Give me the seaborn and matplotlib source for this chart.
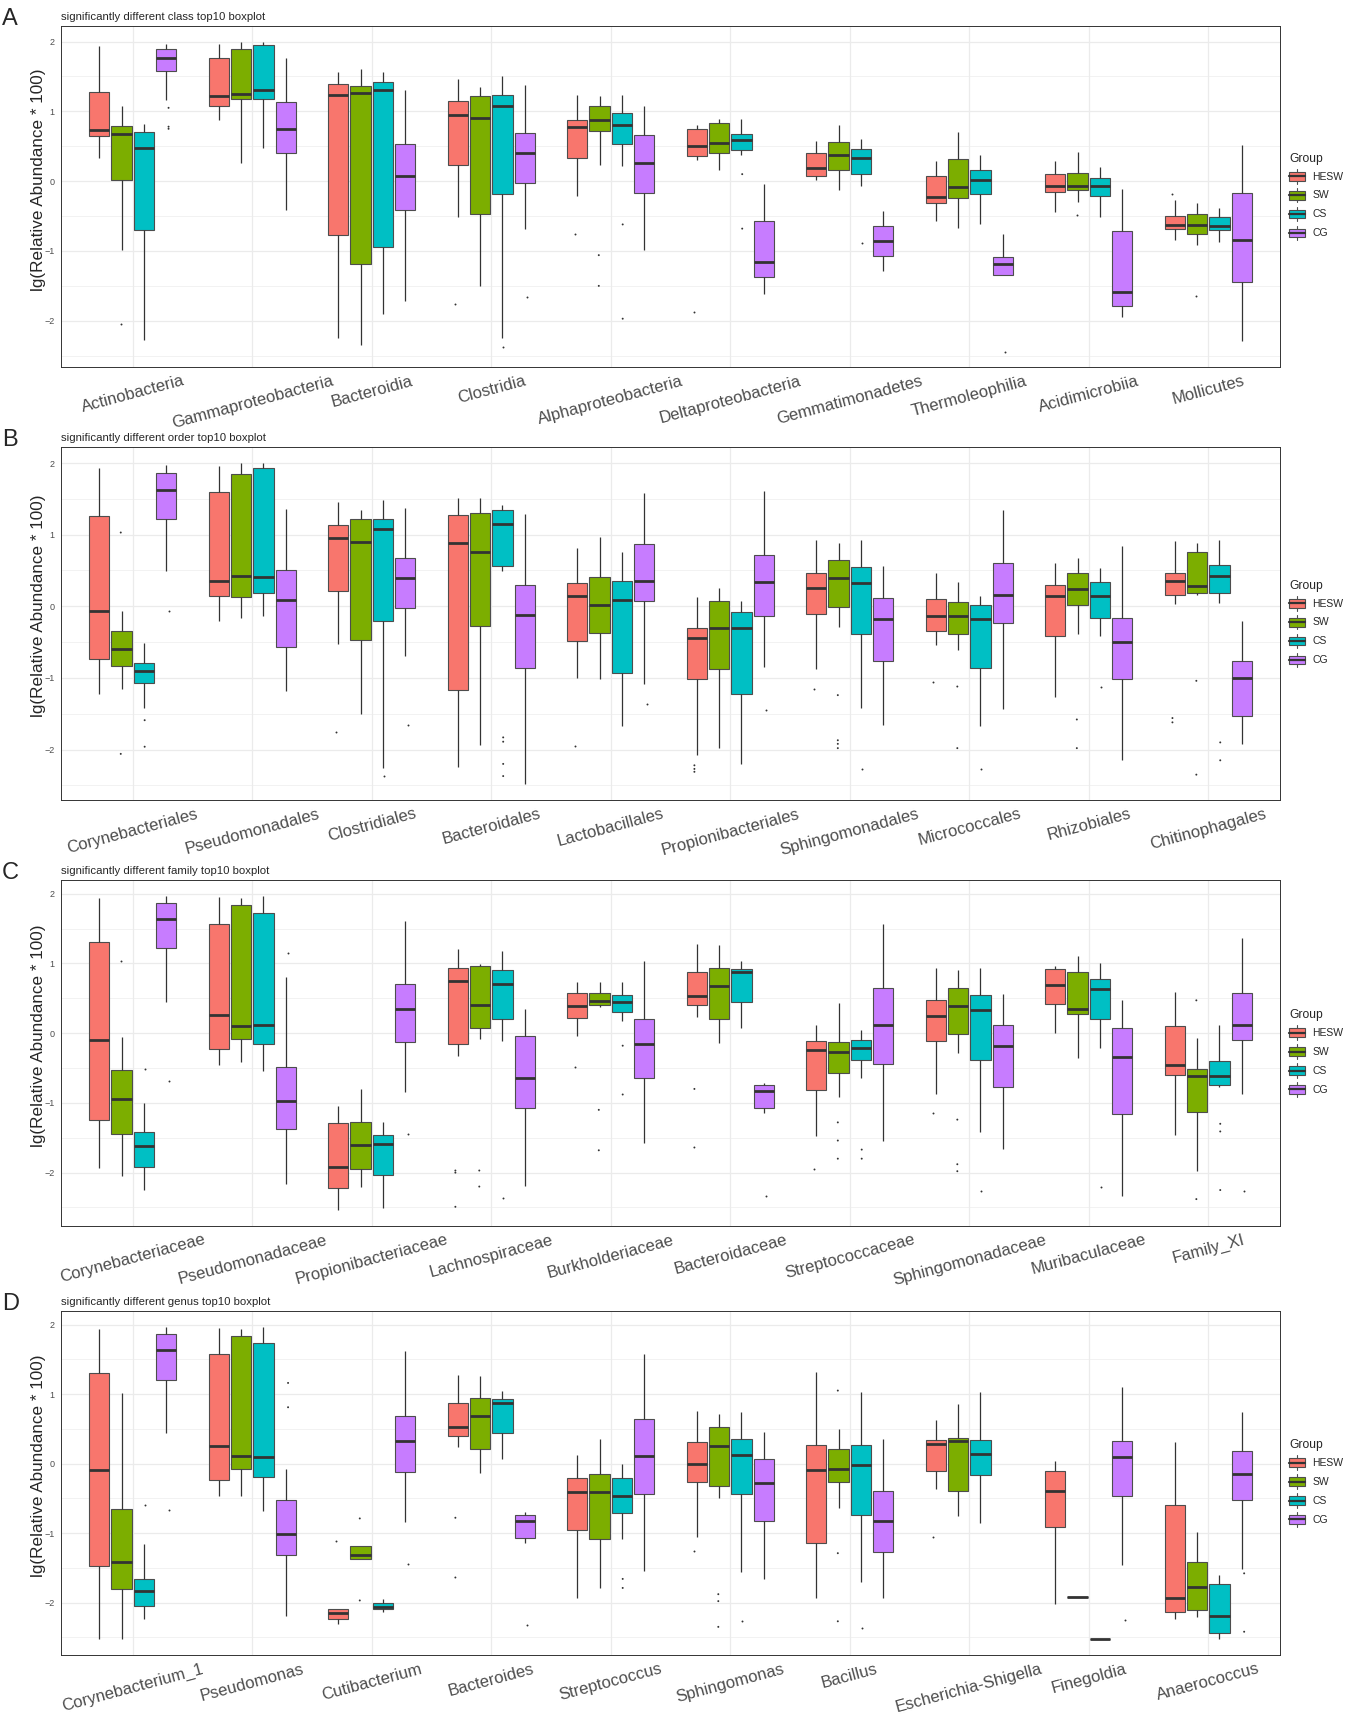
import numpy as np
import pandas as pd
import seaborn as sns
import matplotlib
matplotlib.use('Agg')
import matplotlib.pyplot as plt
from matplotlib.patches import Patch, Rectangle
from matplotlib.lines import Line2D
from matplotlib.legend_handler import HandlerBase
from matplotlib.ticker import FixedLocator

# ------------------------------- data start ------------------------------- #
groups = ['HESW', 'SW', 'CS', 'CG']
group_colors = ['#F8766D', '#7CAE00', '#00BFC4', '#C77CFF']

# every box: [lower whisker, q1, median, q3, upper whisker]
# outliers: (category index, group, value)

# --- A: class ---
class_cats = ['Actinobacteria', 'Gammaproteobacteria', 'Bacteroidia', 'Clostridia', 'Alphaproteobacteria',
              'Deltaproteobacteria', 'Gemmatimonadetes', 'Thermoleophilia', 'Acidimicrobiia', 'Mollicutes']
class_hesw = [[0.33, 0.65, 0.73, 1.28, 1.94], [0.88, 1.08, 1.22, 1.77, 1.96], [-2.24, -0.77, 1.24, 1.39, 1.57],
              [-0.52, 0.23, 0.95, 1.15, 1.46], [-0.21, 0.33, 0.78, 0.88, 1.23], [0.30, 0.36, 0.50, 0.74, 0.81],
              [0.02, 0.07, 0.19, 0.40, 0.57], [-0.57, -0.32, -0.22, 0.08, 0.29], [-0.44, -0.15, -0.07, 0.10, 0.29],
              [-0.85, -0.68, -0.63, -0.50, -0.27]]
class_sw = [[-0.98, 0.02, 0.67, 0.79, 1.07], [0.26, 1.18, 1.25, 1.89, 2.00], [-2.35, -1.18, 1.26, 1.36, 1.60],
            [-1.50, -0.47, 0.91, 1.22, 1.35], [0.23, 0.72, 0.87, 1.07, 1.22], [0.16, 0.41, 0.55, 0.83, 0.89],
            [-0.12, 0.16, 0.37, 0.56, 0.80], [-0.67, -0.24, -0.09, 0.32, 0.71], [-0.30, -0.12, -0.07, 0.11, 0.42],
            [-0.92, -0.75, -0.63, -0.47, -0.32]]
class_cs = [[-2.27, -0.70, 0.47, 0.71, 0.82], [0.47, 1.18, 1.31, 1.95, 1.99], [-1.90, -0.94, 1.30, 1.42, 1.56],
            [-2.25, -0.19, 1.08, 1.23, 1.50], [0.22, 0.53, 0.81, 0.98, 1.23], [0.37, 0.44, 0.59, 0.67, 0.89],
            [-0.07, 0.10, 0.33, 0.46, 0.60], [-0.61, -0.19, 0.02, 0.16, 0.37], [-0.51, -0.21, -0.07, 0.05, 0.20],
            [-0.87, -0.70, -0.64, -0.51, -0.38]]
class_cg = [[1.16, 1.58, 1.76, 1.89, 1.97], [-0.41, 0.41, 0.75, 1.14, 1.77], [-1.71, -0.42, 0.07, 0.53, 1.30],
            [-0.69, -0.03, 0.40, 0.69, 1.38], [-0.98, -0.17, 0.26, 0.66, 1.08], [-1.61, -1.38, -1.16, -0.57, -0.04],
            [-1.28, -1.07, -0.86, -0.64, -0.43], [-1.35, -1.35, -1.18, -1.09, -0.76], [-1.95, -1.79, -1.59, -0.71, -0.11],
            [-2.29, -1.45, -0.84, -0.17, 0.52]]
class_out = [(0, 'SW', -2.05), (0, 'CG', 1.05), (0, 'CG', 0.78), (0, 'CG', 0.75),
             (3, 'HESW', -1.76), (3, 'CS', -2.37), (3, 'CG', -1.66),
             (4, 'HESW', -0.75), (4, 'SW', -1.06), (4, 'SW', -1.50), (4, 'CS', -0.62), (4, 'CS', -1.97),
             (5, 'HESW', -1.88), (5, 'CS', 0.10), (5, 'CS', -0.68),
             (6, 'CS', -0.89), (7, 'CG', -2.44), (8, 'SW', -0.48),
             (9, 'HESW', -0.19), (9, 'SW', -1.65)]

# --- B: order ---
order_cats = ['Corynebacteriales', 'Pseudomonadales', 'Clostridiales', 'Bacteroidales', 'Lactobacillales',
              'Propionibacteriales', 'Sphingomonadales', 'Micrococcales', 'Rhizobiales', 'Chitinophagales']
order_hesw = [[-1.22, -0.74, -0.07, 1.26, 1.93], [-0.20, 0.14, 0.36, 1.59, 1.96], [-0.52, 0.22, 0.95, 1.14, 1.45],
              [-2.24, -1.17, 0.89, 1.27, 1.51], [-1.00, -0.49, 0.14, 0.32, 0.82], [-2.07, -1.01, -0.44, -0.30, 0.13],
              [-0.88, -0.11, 0.25, 0.47, 0.93], [-0.54, -0.35, -0.13, 0.10, 0.47], [-1.26, -0.41, 0.15, 0.30, 0.60],
              [0.03, 0.16, 0.35, 0.47, 0.91]]
order_sw = [[-1.15, -0.83, -0.59, -0.34, -0.06], [-0.16, 0.13, 0.42, 1.85, 2.00], [-1.50, -0.47, 0.90, 1.22, 1.35],
            [-1.93, -0.28, 0.76, 1.30, 1.51], [-1.02, -0.37, 0.02, 0.41, 0.97], [-1.98, -0.88, -0.30, 0.08, 0.26],
            [-0.29, -0.01, 0.39, 0.64, 0.89], [-0.61, -0.38, -0.14, 0.06, 0.34], [-0.39, 0.02, 0.24, 0.46, 0.68],
            [0.16, 0.19, 0.28, 0.76, 0.89]]
order_cs = [[-1.42, -1.07, -0.91, -0.79, -0.51], [-0.13, 0.19, 0.41, 1.93, 2.00], [-2.26, -0.20, 1.08, 1.22, 1.49],
            [0.49, 0.56, 1.15, 1.34, 1.41], [-1.67, -0.93, 0.09, 0.35, 0.76], [-2.20, -1.22, -0.30, -0.08, 0.08],
            [-1.42, -0.39, 0.33, 0.55, 0.93], [-1.67, -0.86, -0.18, 0.02, 0.14], [-0.42, -0.17, 0.14, 0.34, 0.54],
            [0.04, 0.18, 0.42, 0.58, 0.92]]
order_cg = [[0.49, 1.22, 1.63, 1.86, 1.97], [-1.18, -0.57, 0.09, 0.51, 1.36], [-0.69, -0.03, 0.40, 0.68, 1.37],
            [-2.48, -0.86, -0.12, 0.30, 1.29], [-1.09, 0.07, 0.35, 0.87, 1.58], [-0.85, -0.13, 0.34, 0.71, 1.61],
            [-1.66, -0.77, -0.18, 0.12, 0.56], [-1.43, -0.23, 0.16, 0.60, 1.35], [-2.14, -1.02, -0.50, -0.17, 0.84],
            [-1.92, -1.53, -1.00, -0.77, -0.20]]
order_out = [(0, 'SW', 1.03), (0, 'SW', -2.06), (0, 'CS', -1.59), (0, 'CS', -1.96), (0, 'CG', -0.06),
             (2, 'HESW', -1.76), (2, 'CS', -2.37), (2, 'CG', -1.66),
             (3, 'CS', -1.83), (3, 'CS', -1.89), (3, 'CS', -2.20), (3, 'CS', -2.37),
             (4, 'HESW', -1.95), (4, 'CG', -1.37),
             (5, 'HESW', -2.22), (5, 'HESW', -2.27), (5, 'HESW', -2.31), (5, 'CG', -1.45),
             (6, 'HESW', -1.15), (6, 'SW', -1.24), (6, 'SW', -1.87), (6, 'SW', -1.92), (6, 'SW', -1.98), (6, 'CS', -2.27),
             (7, 'HESW', -1.05), (7, 'SW', -1.12), (7, 'SW', -1.98), (7, 'CS', -2.27),
             (8, 'SW', -1.58), (8, 'SW', -1.98), (8, 'CS', -1.12),
             (9, 'HESW', -1.56), (9, 'HESW', -1.62), (9, 'SW', -1.04), (9, 'SW', -2.35), (9, 'CS', -1.90), (9, 'CS', -2.15)]

# --- C: family ---
family_cats = ['Corynebacteriaceae', 'Pseudomonadaceae', 'Propionibacteriaceae', 'Lachnospiraceae', 'Burkholderiaceae',
               'Bacteroidaceae', 'Streptococcaceae', 'Sphingomonadaceae', 'Muribaculaceae', 'Family_XI']
family_hesw = [[-1.93, -1.24, -0.10, 1.31, 1.94], [-0.46, -0.23, 0.26, 1.57, 1.95], [-2.54, -2.22, -1.92, -1.29, -1.05],
               [-0.33, -0.16, 0.75, 0.93, 1.21], [-0.04, 0.22, 0.39, 0.57, 0.74], [0.23, 0.40, 0.53, 0.88, 1.28],
               [-1.48, -0.82, -0.24, -0.12, 0.11], [-0.88, -0.11, 0.25, 0.48, 0.93], [0.00, 0.42, 0.69, 0.92, 0.96],
               [-1.46, -0.60, -0.45, 0.10, 0.59]]
family_sw = [[-2.05, -1.45, -0.95, -0.53, -0.05], [-0.42, -0.08, 0.10, 1.83, 1.94], [-2.21, -1.95, -1.60, -1.27, -0.80],
             [-0.08, 0.08, 0.41, 0.96, 0.99], [0.38, 0.40, 0.46, 0.57, 0.74], [-0.14, 0.20, 0.67, 0.94, 1.26],
             [-0.92, -0.57, -0.27, -0.13, 0.43], [-0.29, -0.01, 0.39, 0.64, 0.90], [-0.35, 0.28, 0.34, 0.87, 1.10],
             [-1.98, -1.13, -0.62, -0.51, -0.07]]
family_cs = [[-2.25, -1.92, -1.62, -1.42, -1.00], [-0.55, -0.16, 0.12, 1.72, 1.97], [-2.51, -2.04, -1.59, -1.46, -1.28],
             [-0.11, 0.20, 0.71, 0.90, 1.18], [0.18, 0.30, 0.44, 0.54, 0.73], [0.07, 0.45, 0.88, 0.92, 1.04],
             [-0.64, -0.38, -0.22, -0.10, 0.04], [-1.42, -0.39, 0.33, 0.55, 0.93], [-0.21, 0.20, 0.63, 0.78, 1.01],
             [-0.77, -0.75, -0.61, -0.40, 0.11]]
family_cg = [[0.44, 1.22, 1.63, 1.87, 1.96], [-2.17, -1.38, -0.98, -0.48, 0.80], [-0.84, -0.13, 0.34, 0.70, 1.61],
             [-2.19, -1.07, -0.64, -0.04, 0.34], [-1.57, -0.65, -0.16, 0.20, 1.03], [-1.14, -1.07, -0.83, -0.74, -0.71],
             [-1.54, -0.44, 0.11, 0.64, 1.56], [-1.66, -0.77, -0.18, 0.11, 0.56], [-2.34, -1.16, -0.34, 0.08, 0.47],
             [-0.87, -0.10, 0.11, 0.57, 1.36]]
family_out = [(0, 'SW', 1.03), (0, 'CS', -0.52), (0, 'CG', -0.68), (1, 'CG', 1.15), (2, 'CG', -1.45),
              (3, 'HESW', -1.97), (3, 'HESW', -2.00), (3, 'HESW', -2.49), (3, 'SW', -1.97), (3, 'SW', -2.20), (3, 'CS', -2.36),
              (4, 'HESW', -0.48), (4, 'SW', -1.10), (4, 'SW', -1.68), (4, 'CS', -0.18), (4, 'CS', -0.88),
              (5, 'HESW', -0.80), (5, 'HESW', -1.64), (5, 'CG', -2.34),
              (6, 'HESW', -1.95), (6, 'SW', -1.28), (6, 'SW', -1.54), (6, 'SW', -1.80), (6, 'CS', -1.67), (6, 'CS', -1.80),
              (7, 'HESW', -1.15), (7, 'SW', -1.24), (7, 'SW', -1.88), (7, 'SW', -1.98), (7, 'CS', -2.27),
              (8, 'CS', -2.20),
              (9, 'SW', 0.47), (9, 'SW', -2.38), (9, 'CS', -1.30), (9, 'CS', -1.41), (9, 'CS', -2.25), (9, 'CG', -2.26)]

# --- D: genus ---
genus_cats = ['Corynebacterium_1', 'Pseudomonas', 'Cutibacterium', 'Bacteroides', 'Streptococcus',
              'Sphingomonas', 'Bacillus', 'Escherichia-Shigella', 'Finegoldia', 'Anaerococcus']
genus_hesw = [[-2.53, -1.48, -0.10, 1.31, 1.94], [-0.47, -0.24, 0.25, 1.58, 1.95], [-2.31, -2.23, -2.15, -2.09, -2.09],
              [0.24, 0.40, 0.53, 0.87, 1.28], [-1.94, -0.95, -0.41, -0.21, 0.12], [-1.05, -0.26, -0.01, 0.31, 0.75],
              [-1.93, -1.15, -0.10, 0.27, 1.32], [-0.36, -0.11, 0.28, 0.34, 0.63], [-2.02, -0.91, -0.40, -0.11, 0.04],
              [-2.24, -2.13, -1.93, -0.59, 0.31]]
genus_sw = [[-2.52, -1.81, -1.41, -0.66, 1.02], [-0.46, -0.08, 0.11, 1.83, 1.94], [-1.38, -1.38, -1.32, -1.18, -1.18],
            [-0.13, 0.21, 0.68, 0.94, 1.26], [-1.79, -1.09, -0.41, -0.15, 0.36], [-0.50, -0.32, 0.25, 0.53, 0.71],
            [-0.64, -0.26, -0.08, 0.21, 0.49], [-0.75, -0.39, 0.32, 0.37, 0.86], [-1.92, -1.92, -1.92, -1.92, -1.92],
            [-2.21, -2.11, -1.77, -1.42, -0.98]]
genus_cs = [[-2.24, -2.05, -1.83, -1.66, -1.16], [-0.68, -0.20, 0.09, 1.73, 1.97], [-2.14, -2.10, -2.06, -2.00, -1.95],
            [0.07, 0.44, 0.87, 0.93, 1.05], [-1.09, -0.71, -0.46, -0.21, 0.00], [-1.56, -0.44, 0.13, 0.36, 0.74],
            [-1.71, -0.74, -0.02, 0.27, 1.03], [-0.86, -0.17, 0.14, 0.34, 1.03], [-2.52, -2.52, -2.52, -2.52, -2.52],
            [-2.53, -2.44, -2.20, -1.74, -1.61]]
genus_cg = [[0.44, 1.20, 1.63, 1.87, 1.96], [-2.19, -1.31, -1.01, -0.52, -0.08], [-0.84, -0.12, 0.33, 0.69, 1.62],
            [-1.15, -1.07, -0.83, -0.74, -0.70], [-1.54, -0.44, 0.11, 0.64, 1.57], [-1.66, -0.83, -0.28, 0.06, 0.45],
            [-1.93, -1.27, -0.83, -0.40, 0.35], None, [-1.46, -0.47, 0.09, 0.33, 1.10],
            [-1.52, -0.52, -0.15, 0.18, 0.74]]
genus_out = [(0, 'CS', -0.60), (0, 'CG', -0.67), (1, 'CG', 1.16), (1, 'CG', 0.81),
             (2, 'HESW', -1.12), (2, 'SW', -0.79), (2, 'SW', -1.97), (2, 'CG', -1.45),
             (3, 'HESW', -0.78), (3, 'HESW', -1.64), (3, 'CG', -2.33),
             (4, 'CS', -1.66), (4, 'CS', -1.79),
             (5, 'HESW', -1.26), (5, 'SW', -1.88), (5, 'SW', -1.98), (5, 'SW', -2.35), (5, 'CS', -2.26),
             (6, 'SW', 1.05), (6, 'SW', -1.29), (6, 'SW', -2.27), (6, 'CS', -2.37),
             (7, 'HESW', -1.06), (8, 'CG', -2.25), (9, 'CG', -1.58), (9, 'CG', -2.42)]
# -------------------------------- data end -------------------------------- #

panels = [
    ('A', 'significantly different class top10 boxplot', class_cats,
     [class_hesw, class_sw, class_cs, class_cg], class_out),
    ('B', 'significantly different order top10 boxplot', order_cats,
     [order_hesw, order_sw, order_cs, order_cg], order_out),
    ('C', 'significantly different family top10 boxplot', family_cats,
     [family_hesw, family_sw, family_cs, family_cg], family_out),
    ('D', 'significantly different genus top10 boxplot', genus_cats,
     [genus_hesw, genus_sw, genus_cs, genus_cg], genus_out),
]

# panel positions in pixels (top, bottom) of a 1346 x 1716 canvas
W, H = 1346, 1716
plot_left, plot_right = 61, 1280
panel_px = [(26, 367), (447, 800), (880, 1226), (1311, 1655)]

palette = dict(zip(groups, group_colors))
dot_palette = {g: '#333333' for g in groups}


class BoxKey(HandlerBase):
    # small boxplot glyph like ggplot legend keys
    def create_artists(self, legend, orig_handle, xdescent, ydescent, width, height, fontsize, trans):
        x0, y0 = -xdescent, -ydescent
        xm, ym = x0 + width / 2, y0 + height / 2
        stem = Line2D([xm, xm], [y0, y0 + height], color='#4D4D4D', lw=0.8, transform=trans)
        box = Rectangle((x0, ym - height * 0.3), width, height * 0.6, facecolor=orig_handle.get_facecolor(),
                        edgecolor='#4D4D4D', lw=0.8, transform=trans)
        med = Line2D([x0, x0 + width], [ym, ym], color='#333333', lw=1.6, transform=trans)
        return [stem, box, med]


sns.set_style('white')
plt.rcParams['font.family'] = ['Liberation Sans', 'DejaVu Sans']

fig = plt.figure(figsize=(W / 100, H / 100), dpi=100)

for (letter, title, cats, boxes, outs), (top, bottom) in zip(panels, panel_px):
    ax = fig.add_axes([plot_left / W, 1 - bottom / H, (plot_right - plot_left) / W, (bottom - top) / H])

    rows = []
    for g, series in zip(groups, boxes):
        for cat, five in zip(cats, series):
            if five is None:
                continue
            for v in five:
                rows.append((cat, g, v))
    box_df = pd.DataFrame(rows, columns=['taxon', 'Group', 'value'])
    out_df = pd.DataFrame([(cats[i], g, v) for i, g, v in outs], columns=['taxon', 'Group', 'value'])

    sns.boxplot(data=box_df, x='taxon', y='value', hue='Group', order=cats, hue_order=groups,
                palette=palette, saturation=1, whis=(0, 100), width=0.75, gap=0.1,
                showcaps=False, fliersize=0, linecolor='#4D4D4D', linewidth=0.8,
                medianprops={'color': '#333333', 'linewidth': 2.0},
                whiskerprops={'color': '#333333', 'linewidth': 0.9},
                legend=False, ax=ax)
    sns.stripplot(data=out_df, x='taxon', y='value', hue='Group', order=cats, hue_order=groups,
                  palette=dot_palette, dodge=True, jitter=False, size=1.4, linewidth=0,
                  legend=False, ax=ax, zorder=4)

    # limits like ggplot: 5% expansion on y, 0.6 on discrete x
    all_vals = pd.concat([box_df['value'], out_df['value']])
    lo, hi = all_vals.min(), all_vals.max()
    pad = (hi - lo) * 0.05
    ax.set_ylim(lo - pad, hi + pad)
    ax.set_xlim(-0.6, len(cats) - 0.4)

    ax.set_yticks([-2, -1, 0, 1, 2])
    ax.yaxis.set_minor_locator(FixedLocator([-2.5, -1.5, -0.5, 0.5, 1.5]))
    ax.tick_params(axis='y', which='major', labelsize=6.5, labelcolor='#4D4D4D', length=3,
                   width=0.6, color='#333333', pad=1.5)
    ax.tick_params(axis='y', which='minor', length=0)
    ax.tick_params(axis='x', labelsize=12.0, labelcolor='#4D4D4D', length=3, width=0.6,
                   color='#333333', pad=1.5)
    for lab in ax.get_xticklabels():
        lab.set_rotation(15)
        lab.set_ha('center')

    ax.set_axisbelow(True)
    ax.grid(which='major', axis='both', color='#EBEBEB', linewidth=0.9)
    ax.grid(which='minor', axis='y', color='#EBEBEB', linewidth=0.45)
    for sp in ax.spines.values():
        sp.set_visible(True)
        sp.set_color('#333333')
        sp.set_linewidth(0.7)

    ax.set_xlabel('')
    ax.set_ylabel('lg(Relative Abundance * 100)', fontsize=12.3)
    ax.yaxis.set_label_coords(-0.0125, 0.55)
    ax.set_title(title, loc='left', fontsize=8.2, pad=4.5)

    handles = [Patch(facecolor=c, label=g) for g, c in zip(groups, group_colors)]
    ax.legend(handles=handles, handler_map={Patch: BoxKey()}, title='Group', loc='center left',
              bbox_to_anchor=(1.0, 0.5), frameon=False, fontsize=7.5, title_fontsize=8.7,
              handlelength=1.5, handleheight=1.8, labelspacing=0.4, handletextpad=0.7,
              borderaxespad=0.5, borderpad=0.4, alignment='left')

    fig.text(2 / W, 1 - (top - 1) / H, letter, fontsize=17, va='baseline', ha='left')

fig.savefig('out.png', dpi=100)
